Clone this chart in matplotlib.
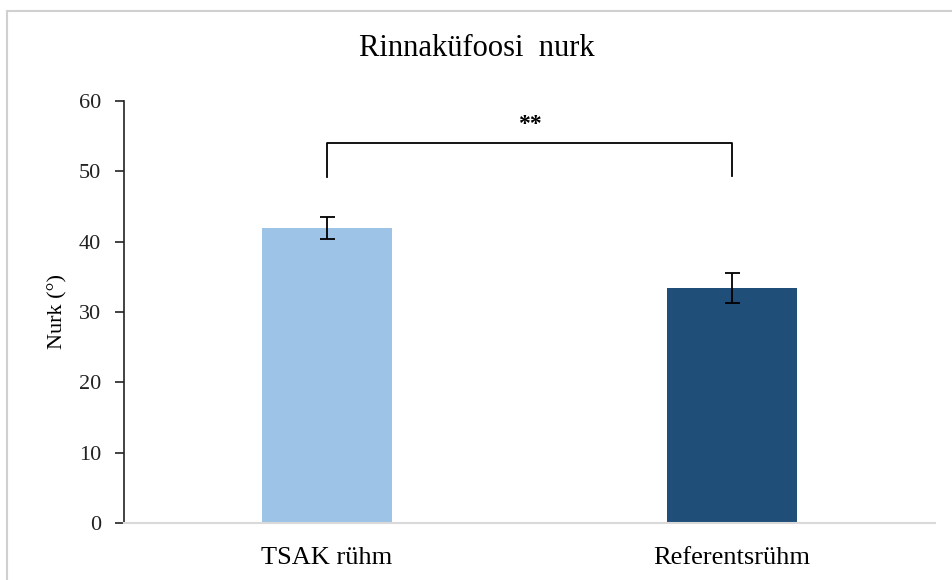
import matplotlib

matplotlib.use("Agg")
import matplotlib.pyplot as plt
from matplotlib.patches import Rectangle

# Rinnaküfoosi nurk, rühmade keskmised ja vead
groups = ["TSAK rühm", "Referentsrühm"]
means = [41.9, 33.4]
errors = [1.55, 2.1]
bar_colors = ["#9DC3E6", "#1F4E79"]
y_ticks = [0, 10, 20, 30, 40, 50, 60]

# olulisuse sulg
bracket_top = 54.0
bracket_legs = [49.1, 49.3]
star_text = "**"

plt.rcParams["font.family"] = ["Liberation Serif", "DejaVu Serif"]

fig = plt.figure(figsize=(9.53, 5.8), dpi=100)
ax = fig.add_axes([0.130, 0.0978, 0.851, 0.7286])

x = list(range(len(groups)))
ax.bar(x, means, width=0.32, color=bar_colors, zorder=2)
ax.errorbar(x, means, yerr=errors, fmt="none", ecolor="black",
            elinewidth=1.3, capsize=5.4, capthick=1.3, zorder=3)

# sulg ja tärnid
ax.plot([x[0], x[0], x[1], x[1]],
        [bracket_legs[0], bracket_top, bracket_top, bracket_legs[1]],
        color="black", linewidth=1.3)
ax.text((x[0] + x[1]) / 2, 56.6, star_text, ha="center", va="center",
        fontsize=17, fontweight="bold")

ax.set_xlim(-0.5, 1.5)
ax.set_ylim(0, 60)
ax.set_yticks(y_ticks)
ax.set_xticks(x)
ax.set_xticklabels(groups, fontsize=19)
ax.tick_params(axis="y", direction="out", length=6.5, width=1.2,
               labelsize=16, pad=10, colors="#222222")
ax.tick_params(axis="x", length=0, pad=17, labelsize=19)

for side in ["top", "right"]:
    ax.spines[side].set_visible(False)
ax.spines["left"].set_color("#222222")
ax.spines["left"].set_linewidth(1.2)
ax.spines["bottom"].set_color("#D9D9D9")
ax.spines["bottom"].set_linewidth(1.5)

ax.set_ylabel("Nurk (°)", fontsize=16, labelpad=8)
fig.text(0.5, 0.917, "Rinnaküfoosi  nurk", ha="center", va="center",
         fontsize=22)

# hall raam ümber joonise
fig.patches.append(Rectangle((6.5 / 953, -0.1), 1.2, 1.1 - 11 / 580,
                             transform=fig.transFigure, fill=False,
                             edgecolor="#D0D0D0", linewidth=1.5))

fig.savefig("out.png", dpi=100)
